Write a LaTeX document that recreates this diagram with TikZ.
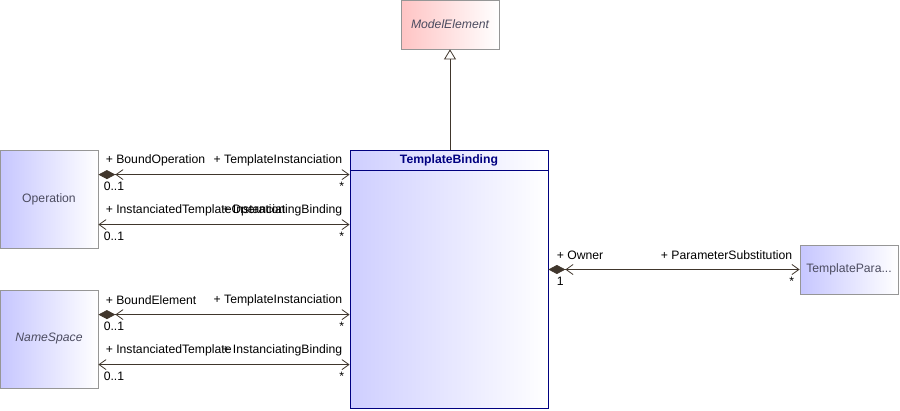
\documentclass[tikz,border=0pt]{standalone}
\usepackage{fontspec}
\setmainfont{Liberation Sans}
\usetikzlibrary{positioning,arrows.meta}
\definecolor{UMLLine}{RGB}{64,54,44}
\definecolor{UMLGrey}{RGB}{150,150,150}
\definecolor{UMLNavy}{RGB}{0,0,128}
\definecolor{UMLText}{RGB}{76,76,96}
\definecolor{UMLLilac}{RGB}{198,198,255}
\definecolor{UMLRose}{RGB}{255,196,196}

\begin{document}
\begin{tikzpicture}[
x=1pt,y=-1pt,
font=\fontsize{12.2}{14}\selectfont,
cls/.style={
rectangle,
draw=UMLGrey,
left color=UMLLilac,
right color=white,
minimum width=98pt,
minimum height=98pt,
inner sep=0pt,
text=UMLText,
line width=0.8pt
},
lbl/.style={
inner sep=0pt,
text=black
},
assoc/.style={
draw=UMLLine,
line width=0.8pt,
{Straight Barb[length=7pt,width=10pt]}-{Straight Barb[length=7pt,width=10pt]}
},
comp/.style={
draw=UMLLine,
line width=0.8pt,
{Diamond[length=17pt,width=9pt]Straight Barb[length=7pt,width=10pt]}-{Straight Barb[length=7pt,width=10pt]}
},
inherit/.style={
draw=UMLLine,
line width=0.8pt,
-{Triangle[open,length=10pt,width=12pt]}
}
]
\useasboundingbox (0,0) rectangle (900,410);

\node[cls,left color=UMLRose,minimum height=49pt,font=\fontsize{12.2}{14}\selectfont\itshape] (modelElement) at (450,24.5) {ModelElement};
\node[cls,draw=UMLNavy,left color=UMLLilac!85,minimum width=198pt,minimum height=258pt] (templateBinding) at (449,279) {};
\node[cls] (operation) at (49,199) {Operation};
\node[cls,font=\fontsize{12.2}{14}\selectfont\itshape] (nameSpace) at (49,339) {NameSpace};
\node[cls,minimum height=49pt] (templatePara) at (849,269.5) {TemplatePara...};

% header of TemplateBinding
\node[lbl,text=UMLNavy,font=\fontsize{12.2}{14}\selectfont\bfseries,below=5pt of templateBinding.north] (tbTitle) {TemplateBinding};
\draw[UMLNavy,line width=0.8pt] ([yshift=-21pt]templateBinding.north west) -- ([yshift=-21pt]templateBinding.north east);

% generalization
\draw[inherit] (templateBinding.north -| modelElement.south) -- (modelElement.south);

% Operation
\draw[comp] ([yshift=-25pt]operation.north east) -- ([yshift=-25pt]templateBinding.north west)
node[lbl,pos=0,anchor=west,xshift=7pt,yshift=14.5pt] {+ BoundOperation}
node[lbl,pos=1,anchor=east,xshift=-7pt,yshift=14.5pt] {+ TemplateInstanciation}
node[lbl,pos=0,anchor=west,xshift=5pt,yshift=-12pt] {0..1}
node[lbl,pos=1,anchor=east,xshift=-5pt,yshift=-12pt] {*};
\draw[assoc] ([yshift=-75pt]operation.north east) -- ([yshift=-75pt]templateBinding.north west)
node[lbl,pos=0,anchor=west,xshift=7pt,yshift=14.5pt] {+ InstanciatedTemplateOperation}
node[lbl,pos=1,anchor=east,xshift=-7pt,yshift=14.5pt] {+ InstanciatingBinding}
node[lbl,pos=0,anchor=west,xshift=5pt,yshift=-12pt] {0..1}
node[lbl,pos=1,anchor=east,xshift=-5pt,yshift=-12pt] {*};

% NameSpace
\draw[comp] ([yshift=-25pt]nameSpace.north east) -- ([yshift=-165pt]templateBinding.north west)
node[lbl,pos=0,anchor=west,xshift=7pt,yshift=14.5pt] {+ BoundElement}
node[lbl,pos=1,anchor=east,xshift=-7pt,yshift=14.5pt] {+ TemplateInstanciation}
node[lbl,pos=0,anchor=west,xshift=5pt,yshift=-12pt] {0..1}
node[lbl,pos=1,anchor=east,xshift=-5pt,yshift=-12pt] {*};
\draw[assoc] ([yshift=-75pt]nameSpace.north east) -- ([yshift=-215pt]templateBinding.north west)
node[lbl,pos=0,anchor=west,xshift=7pt,yshift=14.5pt] {+ InstanciatedTemplate}
node[lbl,pos=1,anchor=east,xshift=-7pt,yshift=14.5pt] {+ InstanciatingBinding}
node[lbl,pos=0,anchor=west,xshift=5pt,yshift=-12pt] {0..1}
node[lbl,pos=1,anchor=east,xshift=-5pt,yshift=-12pt] {*};

% TemplateParameterSubstitution
\draw[comp] (templatePara.west -| templateBinding.east) -- (templatePara.west)
node[lbl,pos=0,anchor=west,xshift=8pt,yshift=14.5pt] {+ Owner}
node[lbl,pos=1,anchor=east,xshift=-7pt,yshift=14.5pt] {+ ParameterSubstitution}
node[lbl,pos=0,anchor=west,xshift=8pt,yshift=-12pt] {1}
node[lbl,pos=1,anchor=east,xshift=-5pt,yshift=-12pt] {*};

\end{tikzpicture}
\end{document}
